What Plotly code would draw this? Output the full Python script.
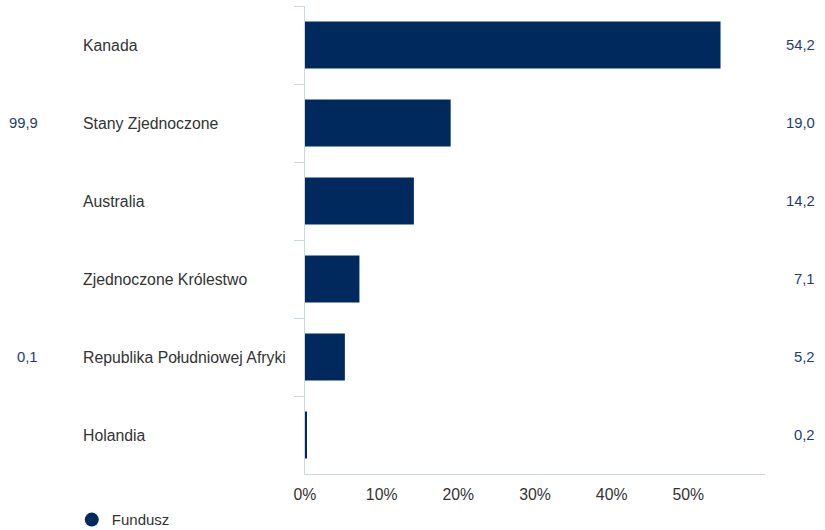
import plotly.graph_objects as go

categories = ["Kanada", "Stany Zjednoczone", "Australia", "Zjednoczone Królestwo",
              "Republika Południowej Afryki", "Holandia"]
fund_values = [54.2, 19.0, 14.2, 7.1, 5.2, 0.2]
left_values = [None, 99.9, None, None, 0.1, None]
x_ticks = [0, 10, 20, 30, 40, 50]
x_tick_labels = ["0%", "10%", "20%", "30%", "40%", "50%"]

NAVY = "#002a5e"
VAL_COLOR = "#1f3d73"
TEXT = "#333333"
AXIS = "#ccd6eb"
FONT = "Liberation Sans, Arial, sans-serif"
FS = 15.8
VS = 14.8

def fmt(v):
    return f"{v:.1f}".replace(".", ",")

fig = go.Figure()
fig.add_trace(go.Bar(
    x=fund_values, y=categories, orientation="h",
    marker=dict(color=NAVY, line=dict(width=0)),
    showlegend=False, hoverinfo="skip",
))
fig.add_trace(go.Scatter(
    x=[None], y=[None], mode="markers", name="Fundusz",
    marker=dict(symbol="circle", size=14, color=NAVY),
))

ann = []
for c, lv, rv in zip(categories, left_values, fund_values):
    ann.append(dict(x=-0.487, y=c, xref="paper", yref="y", text=c, showarrow=False,
                    xanchor="left", yanchor="middle", font=dict(size=FS, color=TEXT, family=FONT)))
    ann.append(dict(x=1.113, y=c, xref="paper", yref="y", text=fmt(rv), showarrow=False,
                    xanchor="right", yanchor="middle", font=dict(size=VS, color=VAL_COLOR, family=FONT)))
    if lv is not None:
        ann.append(dict(x=-0.576, y=c, xref="paper", yref="y", text=fmt(lv), showarrow=False,
                        xanchor="right", yanchor="middle", font=dict(size=VS, color=VAL_COLOR, family=FONT)))

fig.update_layout(
    width=825, height=530,
    margin=dict(l=305, r=60, t=6, b=56, autoexpand=False),
    paper_bgcolor="white", plot_bgcolor="white",
    font=dict(family=FONT, size=FS, color=TEXT),
    bargap=0.4,
    annotations=ann,
    legend=dict(orientation="h", x=-0.507, y=-0.098, xanchor="left", yanchor="middle",
                font=dict(size=15, color=TEXT, family=FONT), bgcolor="rgba(0,0,0,0)"),
    xaxis=dict(range=[0, 60], tickvals=x_ticks, ticktext=x_tick_labels,
               showgrid=False, zeroline=False, showline=True, linecolor=AXIS, linewidth=1,
               ticks="", ticklabelstandoff=6,
               tickfont=dict(size=FS, color=TEXT, family=FONT), fixedrange=True),
    yaxis=dict(categoryorder="array", categoryarray=categories, autorange="reversed",
               showticklabels=False, showgrid=False, zeroline=False,
               showline=True, linecolor=AXIS, linewidth=1,
               ticks="outside", tickson="boundaries", ticklen=10, tickcolor=AXIS, tickwidth=1,
               fixedrange=True),
)

fig.write_html("out.html", config={"displayModeBar": False},
               post_script="document.body.style.margin='0';document.body.style.overflow='hidden';")
